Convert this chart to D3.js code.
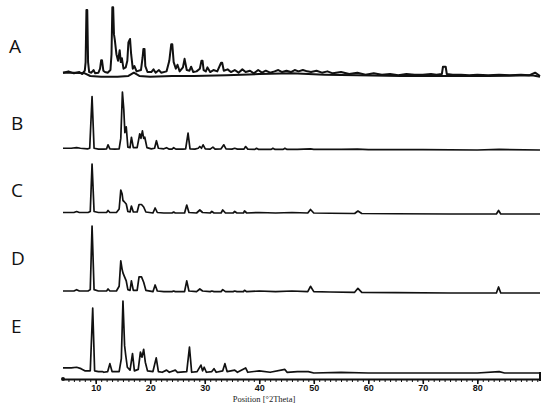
<!DOCTYPE html>
<html>
<head>
<meta charset="utf-8">
<script src="https://cdn.jsdelivr.net/npm/d3@7"></script>
<style>
  body { margin: 0; background: #fff; }
  svg { display: block; }
</style>
</head>
<body>
<div id="plot"></div>
<script>
// sample labels
var samples = ["A", "B", "C", "D", "E"];

// XRD patterns: [2theta, relative intensity]
var patternA = [[4,2],[5,4],[6,1],[7,3],[7.5,0],[8.0,5],[8.15,18],[8.3,97],[8.45,97],[8.6,18],[8.8,3],[9.2,2],[9.6,6],[9.9,1],[10.5,2],[10.8,8],[11.0,21],[11.15,21],[11.4,5],[11.7,3],[12.2,2],[12.7,6],[12.9,30],[13.05,101],[13.2,101],[13.35,60],[13.5,52],[13.8,30],[14.1,20],[14.4,36],[14.6,18],[14.8,24],[15.1,8],[15.5,10],[15.8,20],[16.0,48],[16.3,53],[16.5,30],[16.8,8],[17.1,12],[17.5,4],[18.3,6],[18.6,25],[18.75,38],[18.95,38],[19.1,12],[19.5,3],[20.2,3],[20.6,7],[21.0,2],[21.6,6],[22.0,2],[23.0,4],[23.5,20],[23.85,45],[24.05,45],[24.3,18],[24.7,8],[25.0,14],[25.4,4],[26.0,10],[26.3,23],[26.7,6],[27.2,5],[27.5,11],[27.9,3],[28.5,4],[29.1,8],[29.4,20],[29.6,20],[29.8,6],[30.2,4],[30.5,10],[31.0,3],[31.6,6],[32.3,4],[33.0,17],[33.2,17],[33.5,5],[34.2,7],[34.8,3],[35.5,6],[36.2,2],[36.9,7],[37.5,3],[38.3,5],[39.0,1],[39.8,6],[40.5,2],[41.2,5],[42.0,2],[42.8,4],[43.5,6],[44.2,3],[45.0,5],[45.8,3],[46.5,6],[47.2,4],[48.0,6],[48.8,4],[49.5,3],[50.5,5],[51.5,2],[52.5,4],[53.5,1],[55.0,3],[56.5,0],[58.0,2],[59.5,-1],[61.0,1],[62.5,-1],[64.0,0],[65.5,-2],[67.0,0],[68.5,-1],[70.0,-1],[71.5,0],[72.5,-1],[73.5,0],[73.7,11],[74.2,11],[74.4,0],[75.5,-1],[77,-1],[78.5,-2],[80,-1],[82,-2],[84,-1],[86,-2],[88,-1],[89.5,-2],[90.6,2],[91.5,-3]];
// second (smoother) pattern overlaid on A
var patternA2 = [[4,2],[6,2],[8,1],[9,-3],[11,-4],[14,-4],[16,-3],[17,2],[18,-3],[20,-4],[24,-3],[28,-3],[34,-2],[40,0],[46,1],[52,-1],[58,-2],[66,-3],[74,-3],[82,-3],[90,-2],[91.5,-4]];
var patternB = [[4,3],[5.5,3],[6.5,4],[7.2,3],[8.5,2],[8.9,3],[9.33,92],[9.7,3],[10.5,1.5],[11.5,1.5],[12.0,2],[12.26,9],[12.6,2],[13.5,1.5],[14.3,2],[14.6,20],[14.9,100],[15.15,70],[15.35,30],[15.6,40],[15.9,5],[16.3,4],[16.55,22],[16.9,4],[17.6,4],[18.08,28],[18.3,20],[18.57,33],[18.8,20],[19.0,22],[19.4,4],[20.2,2],[20.8,3],[21.14,16],[21.5,3],[22.5,2],[23,4],[23.5,1.5],[24.0,1.5],[24.3,4],[24.7,1.5],[26.0,1.5],[26.5,2],[26.94,29],[27.3,2],[28.2,1.5],[28.8,3],[29.1,6],[29.4,3],[29.7,9],[30.1,2],[31.0,1.5],[31.5,5],[31.9,1.5],[33.0,2],[33.5,9],[33.9,2],[35.0,1.5],[35.5,3],[36,1.5],[37.2,1.5],[37.5,6],[37.9,1.5],[39.2,1],[39.5,3],[39.9,1],[42.2,1],[42.5,3],[42.9,1],[44.4,1],[44.7,3],[45.1,1],[47,1],[49.4,2],[50,1],[55,1],[58,1.5],[60,0.5],[70,0.5],[80,0],[84,1],[91.5,0]];
var patternC = [[4,3],[6.0,3],[6.5,5],[7,3],[8.6,3],[9.0,5],[9.33,100],[9.7,5],[10.5,3],[12.0,3],[12.26,7],[12.6,3],[13.8,3],[14.3,10],[14.6,48],[14.85,40],[15.0,27],[15.2,25],[15.6,20],[15.9,5],[16.3,4],[16.55,16],[16.9,4],[17.6,4],[17.95,19],[18.4,19],[18.8,14],[19.2,4],[20.5,2],[20.9,12],[21.3,3],[22.5,2],[24.0,2],[24.3,4],[24.6,2],[26.3,2],[26.7,18],[27.1,3],[28.5,2],[29.1,8],[29.6,3],[31.0,2],[31.3,5],[31.7,2],[33.0,2],[33.3,8],[33.8,2],[35.2,2],[35.5,5],[35.9,2],[37.1,2],[37.3,6],[37.7,2],[40,3],[43,2],[46,3],[48.9,2],[49.4,9],[50,2],[53,1.5],[57.5,1],[58.1,6],[58.8,1],[65,0.5],[75,0],[83.5,0],[83.9,7],[84.3,0],[91.5,0]];
var patternD = [[4,3],[6.0,3],[6.5,5],[7,3],[8.6,3],[9.0,5],[9.33,100],[9.7,5],[10.5,3],[12.0,3],[12.26,6],[12.6,3],[13.8,3],[14.3,10],[14.6,48],[14.85,35],[15.0,30],[15.2,26],[15.6,18],[15.9,5],[16.3,4],[16.55,18],[16.9,4],[17.6,4],[17.95,24],[18.4,24],[18.8,16],[19.2,4],[20.5,2],[20.9,12],[21.3,3],[22.5,2],[24.0,2],[24.3,3],[24.6,2],[26.3,2],[26.7,18],[27.1,3],[28.5,2],[29.1,6],[29.6,3],[31.0,2],[31.3,3],[31.7,2],[33.0,2],[33.3,5],[33.8,2],[35.2,2],[35.5,3],[35.9,2],[37.1,2],[37.3,4],[37.7,2],[40,3],[43,2],[46,3],[48.9,2],[49.4,10],[50,2],[53,1.5],[57.5,1],[58.1,7],[58.8,1],[65,0.5],[75,0],[83.5,0],[83.9,9],[84.3,0],[91.5,0]];
var patternE = [[4,7],[5.5,7],[6.5,8],[7.3,6],[8,3],[9.0,3],[9.45,90],[9.8,3],[10.5,2],[11.2,2],[11.5,1],[12.2,2],[12.6,13],[13.0,2],[14.3,2],[14.7,20],[15.0,100],[15.3,38],[15.5,25],[15.8,8],[16.3,4],[16.75,27],[17.1,3],[17.8,5],[18.2,29],[18.5,22],[18.8,33],[19.1,15],[19.5,3],[20.5,2],[21.1,21],[21.5,2],[22.2,1],[23.0,4],[23.5,1],[24.6,4],[25.0,1],[26.7,2],[27.2,36],[27.6,1],[28.6,2],[29.3,11],[29.6,3],[29.9,8],[30.3,1],[31.3,2],[31.7,6],[32.1,1],[33.3,3],[33.7,13],[34.1,2],[35.5,4],[36.0,1],[37.5,7],[37.9,1],[40,3],[42,1],[44.7,5],[45.1,1],[47,2],[49.0,2],[50,0],[55,1],[60,0],[70,0],[80,0],[84,2],[85,0],[91.5,0]];

// axis ticks
var majorTicks = [10, 20, 30, 40, 50, 60, 70, 80];
var xTitle = "Position [\u00b02Theta]";

function xrdplot() {
	var width = 550, height = 406;

	var svg = d3.select("#plot").append("svg")
		.attr("width", width)
		.attr("height", height);

	var x = d3.scaleLinear().domain([4, 91.5]).range([63, 540]);

	// baseline and height of each stacked trace
	var panels = [
		{ key: "A", data: [patternA, patternA2], base: 74, h: 66, label: 53 },
		{ key: "B", data: [patternB], base: 150, h: 58, label: 130 },
		{ key: "C", data: [patternC], base: 214, h: 50, label: 197 },
		{ key: "D", data: [patternD], base: 293, h: 67, label: 265 },
		{ key: "E", data: [patternE], base: 373, h: 72, label: 333 }
	];

	panels.forEach(function(p, i) {
		var y = d3.scaleLinear().domain([0, 100]).range([p.base, p.base - p.h]);
		var line = d3.line()
			.x(function(d) { return x(d[0]); })
			.y(function(d) { return y(d[1]); });

		svg.append("g")
			.selectAll("path")
			.data(p.data)
			.enter().append("path")
			.attr("d", line)
			.attr("fill", "none")
			.attr("stroke", "#111")
			.attr("stroke-width", i == 0 ? 2 : 1.7)
			.attr("stroke-linejoin", "round");

		svg.append("text")
			.attr("x", i == 0 ? 9 : 11)
			.attr("y", p.label)
			.style("font-family", "'Open Sans', sans-serif")
			.style("font-size", "19px")
			.style("fill", "#111")
			.text(samples[i]);
	});

	// x axis
	var axisY = 379;
	var minor = svg.append("g")
		.attr("transform", "translate(0," + axisY + ")")
		.call(d3.axisBottom(x).tickValues(d3.range(5, 92, 1)).tickSize(3).tickSizeOuter(0).tickFormat(function() { return ""; }));
	minor.select(".domain").attr("stroke", "#111").attr("stroke-width", 2.2);
	minor.selectAll(".tick line").attr("stroke", "#111").attr("stroke-width", 1);

	var major = svg.append("g")
		.attr("transform", "translate(0," + axisY + ")")
		.call(d3.axisBottom(x).tickValues(majorTicks).tickSize(5).tickPadding(1).tickFormat(d3.format("d")));
	major.select(".domain").remove();
	major.selectAll(".tick line").attr("stroke", "#111").attr("stroke-width", 1.6);
	major.selectAll(".tick text")
		.style("font-family", "'Liberation Sans', Arial, sans-serif")
		.style("font-size", "9px")
		.style("font-weight", "bold")
		.style("fill", "#111");

	// axis end markers
	svg.append("circle").attr("cx", x(4)).attr("cy", axisY).attr("r", 2).style("fill", "#111");
	svg.append("line")
		.attr("x1", x(91.5)).attr("x2", x(91.5))
		.attr("y1", axisY - 7).attr("y2", axisY + 2)
		.attr("stroke", "#111").attr("stroke-width", 2);

	svg.append("text")
		.attr("x", 264)
		.attr("y", 402)
		.attr("text-anchor", "middle")
		.style("font-family", "'Liberation Serif', 'DejaVu Serif', serif")
		.style("font-size", "8.5px")
		.style("fill", "#222")
		.text(xTitle);
}

xrdplot();
</script>
</body>
</html>
